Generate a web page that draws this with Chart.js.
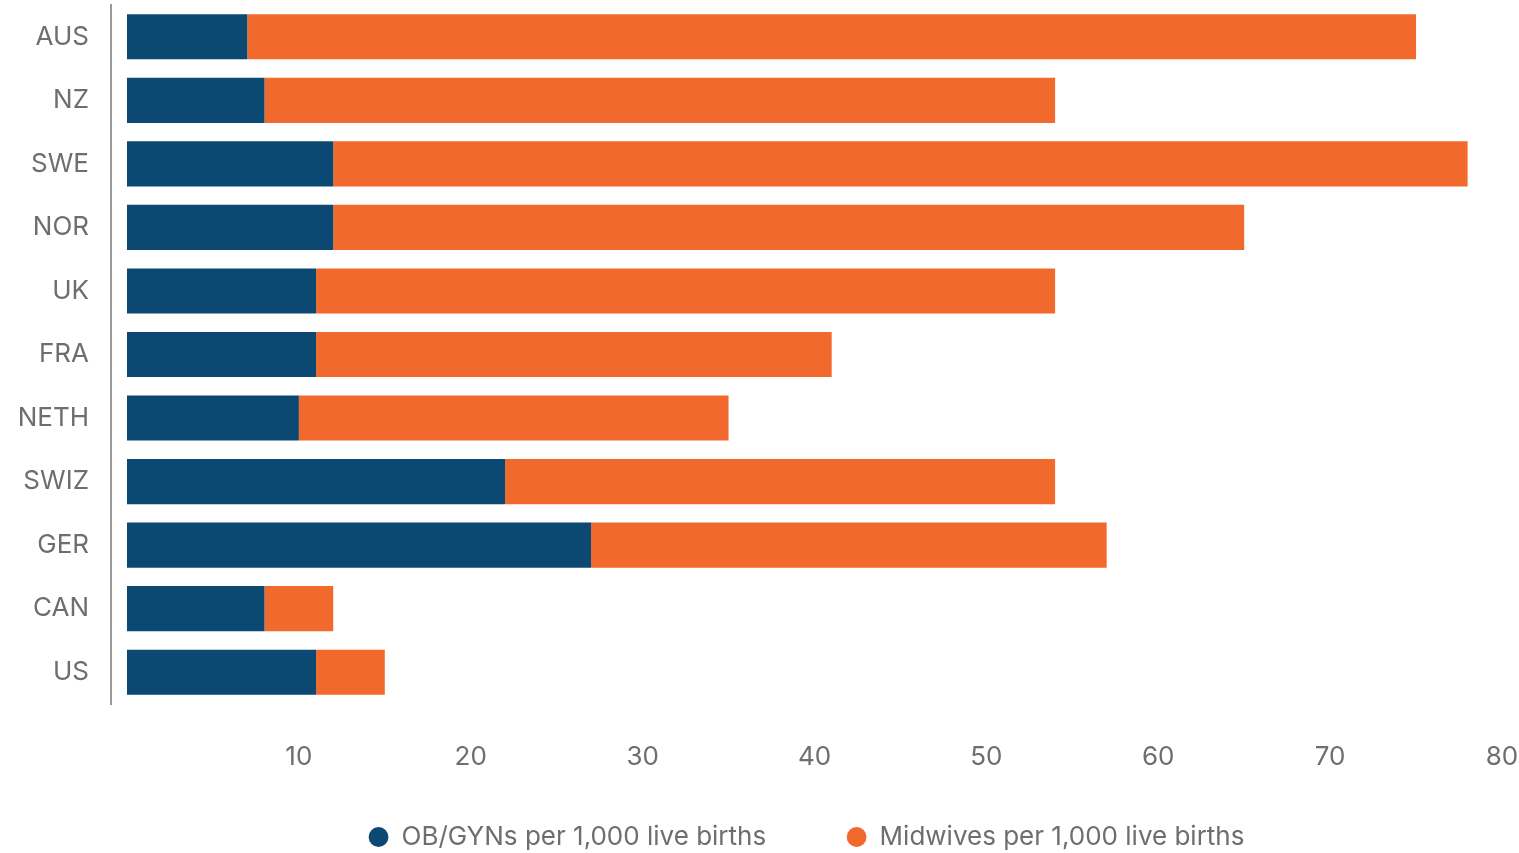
<!DOCTYPE html>
<html>
<head>
<meta charset="utf-8">
<script src="https://cdn.jsdelivr.net/npm/chart.js@4"></script>
<style>
  html, body { margin: 0; padding: 0; background: #fff; }
  #wrap { width: 1519px; height: 853px; }
</style>
</head>
<body>
<div id="wrap"><canvas id="chart"></canvas></div>
<script>
// paises
const countries = ["AUS", "NZ", "SWE", "NOR", "UK", "FRA", "NETH", "SWIZ", "GER", "CAN", "US"];
// por 1.000 nascidos vivos
const obgyn = [7, 8, 12, 12, 11, 11, 10, 22, 27, 8, 11];
const midwives = [68, 46, 66, 53, 43, 30, 25, 32, 30, 4, 4];
const xTicks = [10, 20, 30, 40, 50, 60, 70, 80];

const blue = "#0B4872";
const orange = "#F2692E";
const textGrey = "#6E6E6E";

Chart.defaults.font.family = "Inter, 'Noto Sans', sans-serif";
Chart.defaults.color = textGrey;

// espaco entre os itens da legenda
const gap = "           ";

const ctx = document.getElementById('chart').getContext('2d');
new Chart(ctx, {
  type: 'bar',
  data: {
    labels: countries,
    datasets: [
      { label: "OB/GYNs per 1,000 live births" + gap, data: obgyn, backgroundColor: blue },
      { label: "Midwives per 1,000 live births", data: midwives, backgroundColor: orange }
    ]
  },
  options: {
    indexAxis: 'y',
    responsive: true,
    maintainAspectRatio: false,
    animation: false,
    // a legenda tem 10px vazios embaixo
    layout: { padding: { top: 5, right: 0, left: 0, bottom: -7 } },
    datasets: { bar: { categoryPercentage: 0.71, barPercentage: 1 } },
    scales: {
      x: {
        stacked: true,
        min: -0.93,
        max: 80,
        grid: { display: false },
        border: { display: false },
        afterBuildTicks: axis => { axis.ticks = xTicks.map(v => ({ value: v })); },
        afterFit: axis => { axis.paddingRight = 17; axis.paddingLeft = 0; axis.height = 120; },
        ticks: { font: { size: 26 }, padding: 30, maxRotation: 0 }
      },
      y: {
        stacked: true,
        grid: { display: false, drawTicks: false },
        border: { display: true, color: "#9a9a9a", width: 2 },
        afterFit: axis => { axis.width = 111; axis.paddingTop = 0; axis.paddingBottom = 0; },
        ticks: { font: { size: 26 }, padding: 22 }
      }
    },
    plugins: {
      tooltip: { enabled: false },
      legend: {
        position: 'bottom',
        fullSize: false,
        labels: {
          usePointStyle: true,
          pointStyle: 'circle',
          boxWidth: 20,
          boxHeight: 14,
          padding: 0,
          font: { size: 26 }
        }
      }
    }
  }
});
</script>
</body>
</html>
